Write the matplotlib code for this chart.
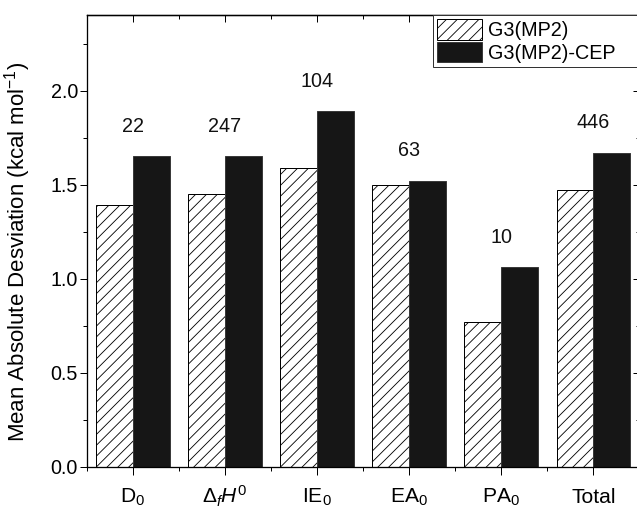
import matplotlib
matplotlib.use("Agg")
import matplotlib.pyplot as plt
import numpy as np

categories = [r"D$_0$", r"$\Delta_f H^0$", r"IE$_0$", r"EA$_0$", r"PA$_0$", "Total"]
g3mp2 = [1.39, 1.45, 1.59, 1.50, 0.77, 1.47]
g3mp2_cep = [1.65, 1.65, 1.89, 1.52, 1.06, 1.67]
counts = ["22", "247", "104", "63", "10", "446"]
series_names = ["G3(MP2)", "G3(MP2)-CEP"]

DPI = 130
PT = 72.0 / DPI  # points per pixel
FS = 19.8 * PT

plt.rcParams["font.family"] = ["Liberation Sans", "DejaVu Sans"]
plt.rcParams["mathtext.fontset"] = "custom"
plt.rcParams["mathtext.rm"] = "Liberation Sans"
plt.rcParams["mathtext.it"] = "Liberation Sans:italic"
plt.rcParams["mathtext.bf"] = "Liberation Sans:bold"
plt.rcParams["hatch.linewidth"] = 0.85 * PT

fig = plt.figure(figsize=(637 / DPI, 512 / DPI), dpi=DPI)
ax = fig.add_axes([86.7 / 637, 45.3 / 512, 552.8 / 637, 451.4 / 512])

x = np.arange(1, len(categories) + 1)
w = 0.4
ax.bar(x, g3mp2, width=-w, align="edge", facecolor="white", edgecolor="black",
       hatch="////", linewidth=1.0 * PT, label=series_names[0])
ax.bar(x, g3mp2_cep, width=w, align="edge", facecolor="#161616", edgecolor="#3a3a3a",
       linewidth=1.0 * PT, label=series_names[1])

for xi, v, c in zip(x, g3mp2_cep, counts):
    ax.text(xi, v + 0.16, c, ha="center", va="center", fontsize=FS, color="#111111")

ax.set_xlim(0.5, 6.5)
ax.set_ylim(0, 2.4)
ax.set_xticks(x)
ax.set_xticklabels(categories)
ax.set_xticks(np.arange(0.5, 6.6, 1.0), minor=True)
ax.set_yticks([0.0, 0.5, 1.0, 1.5, 2.0])
ax.set_yticklabels(["0.0", "0.5", "1.0", "1.5", "2.0"])
ax.set_yticks(np.arange(0.25, 2.4, 0.5), minor=True)

ax.tick_params(axis="both", which="both", labelsize=FS, width=1.0 * PT, color="black")
ax.tick_params(axis="x", which="major", direction="out", length=7.5 * PT)
ax.tick_params(axis="x", which="minor", direction="out", length=4 * PT)
ax.tick_params(axis="y", which="major", direction="out", length=6.7 * PT, pad=2 * PT)
ax.tick_params(axis="y", which="minor", direction="out", length=3.5 * PT)
# mirrored ticks on top/right pointing inward
ax2 = ax.secondary_xaxis("top")
ax2.set_xticks(x)
ax2.set_xticklabels([])
ax2.set_xticks(np.arange(0.5, 6.6, 1.0), minor=True)
ax2.tick_params(which="major", direction="in", length=7 * PT, width=1.0 * PT)
ax2.tick_params(which="minor", direction="in", length=4 * PT, width=1.0 * PT)
ax2.spines["top"].set_linewidth(1.3 * PT)
ay2 = ax.secondary_yaxis("right")
ay2.set_yticks([0.0, 0.5, 1.0, 1.5, 2.0])
ay2.set_yticklabels([])
ay2.set_yticks(np.arange(0.25, 2.4, 0.5), minor=True)
ay2.tick_params(which="major", direction="in", length=7 * PT, width=1.0 * PT)
ay2.tick_params(which="minor", direction="in", length=3.5 * PT, width=1.0 * PT)

for s in ax.spines.values():
    s.set_linewidth(1.3 * PT)

for lab in ax.get_xticklabels():
    lab.set_verticalalignment("baseline")
    lab.set_fontsize(21 * PT)
ax.tick_params(axis="x", which="major", pad=29 * PT)

ax.set_ylabel(r"Mean Absolute Desviation (kcal mol$^{\mathregular{-1}}$)", fontsize=22.3 * PT)
ax.yaxis.set_label_coords(-0.097, 0.475)

leg = ax.legend(loc="upper left", bbox_to_anchor=(0.627, 0.0, 0.45, 1.0), mode="expand",
                borderaxespad=0, fontsize=FS, handlelength=2.25, handleheight=1.2,
                handletextpad=0.3, labelspacing=0.1, borderpad=0.2,
                fancybox=False, frameon=True)
leg.get_frame().set_edgecolor("#333333")
leg.get_frame().set_linewidth(1.0 * PT)
leg.get_frame().set_alpha(1)

fig.savefig("out.png", dpi=DPI)
